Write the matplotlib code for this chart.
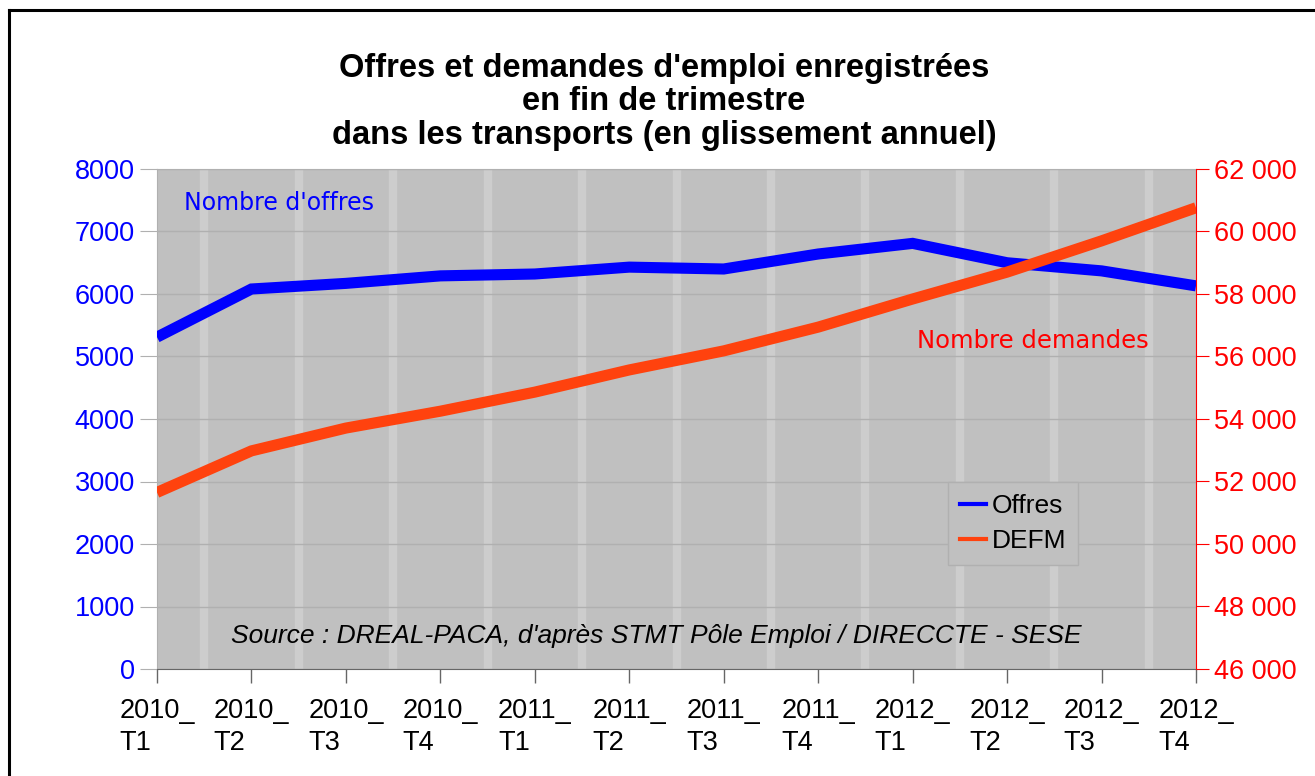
"""Offres et demandes d'emploi dans les transports (PACA)."""

import matplotlib
matplotlib.use("Agg")
import matplotlib.pyplot as plt
from matplotlib.lines import Line2D
from matplotlib.ticker import FuncFormatter, MultipleLocator

plt.rcParams['font.family'] = ['Liberation Sans', 'DejaVu Sans']

# data
quarters = ["2010_\nT1", "2010_\nT2", "2010_\nT3", "2010_\nT4",
            "2011_\nT1", "2011_\nT2", "2011_\nT3", "2011_\nT4",
            "2012_\nT1", "2012_\nT2", "2012_\nT3", "2012_\nT4"]
offres = [5310, 6080, 6170, 6290, 6320, 6430, 6400, 6640,
          6810, 6500, 6370, 6130]
defm = [51650, 52980, 53710, 54250, 54860, 55570, 56180, 56940,
        57840, 58700, 59700, 60760]

BLUE = "#0000ff"
ORANGE = "#ff420e"
RED = "#ff0000"
BG = "#c0c0c0"


def space_thousands(v, _pos):
    return f"{int(v):,}".replace(",", " ")


fig = plt.figure(figsize=(13.15, 7.76), dpi=100)
ax = fig.add_axes([157 / 1315, 107 / 776, 1039 / 1315, 500 / 776])
ax2 = ax.twinx()

x = range(len(quarters))
ax.set_facecolor(BG)
ax.set_xlim(0, len(quarters) - 1)
ax.set_ylim(0, 8000)
ax2.set_ylim(46000, 62000)

# light vertical stripes between categories, gray horizontal grid
for i in range(len(quarters) - 1):
    ax.axvline(i + 0.5, color="#cdcdcd", lw=6, zorder=0.5)
ax.yaxis.set_major_locator(MultipleLocator(1000))
ax.grid(axis="y", color="#b0b0b0", lw=1, zorder=0.6)
ax.set_axisbelow(True)

line1, = ax.plot(x, offres, color=BLUE, lw=8, solid_capstyle="butt",
                 solid_joinstyle="miter", zorder=3)
line2, = ax2.plot(x, defm, color=ORANGE, lw=8, solid_capstyle="butt",
                  solid_joinstyle="miter", zorder=3)

ax.set_xticks(list(x))
ax.set_xticklabels(quarters, fontsize=19.5, multialignment="left",
                   linespacing=1.3)
ax.tick_params(axis="x", length=10, width=1, color="#666666", pad=11)
ax.tick_params(axis="y", colors=BLUE, labelsize=19.5, length=12,
               color="#b0b0b0", pad=4)
ax2.yaxis.set_major_locator(MultipleLocator(2000))
ax2.yaxis.set_major_formatter(FuncFormatter(space_thousands))
ax2.tick_params(axis="y", colors=RED, labelsize=19.5, length=9,
                color=RED, pad=4)

for a in (ax, ax2):
    a.spines["top"].set_visible(False)
    a.spines["left"].set_color("#b0b0b0")
    a.spines["bottom"].set_color("#666666")
    a.spines["right"].set_color(RED)
ax2.spines["left"].set_visible(False)
ax2.spines["bottom"].set_visible(False)
ax.spines["right"].set_visible(False)
ax.spines["top"].set_visible(True)
ax.spines["top"].set_color("#b0b0b0")

ax.text(0.29, 7460, "Nombre d'offres", color=BLUE, fontsize=17,
        family="DejaVu Sans", va="center")
ax2.text(8.05, 56500, "Nombre demandes", color=RED, fontsize=17.5,
         family="DejaVu Sans", va="center")
ax.text(5.29, 530, "Source : DREAL-PACA, d'après STMT Pôle Emploi / "
        "DIRECCTE - SESE", fontsize=19, style="italic", ha="center",
        va="center", zorder=4)

handles = [Line2D([], [], color=BLUE, lw=3), Line2D([], [], color=ORANGE, lw=3)]
leg = ax2.legend(handles, ["Offres", "DEFM"], loc="upper left",
                 bbox_to_anchor=(791 / 1039, 187 / 500), fontsize=19,
                 frameon=True, fancybox=False, framealpha=1,
                 facecolor=BG, edgecolor="#b0b0b0", handlelength=1.0,
                 handletextpad=0.2, borderpad=0.45, labelspacing=0.42,
                 borderaxespad=0)
leg.get_frame().set_linewidth(1)

fig.text(664 / 1315, 1 - 102 / 776,
         "Offres et demandes d'emploi enregistrées\nen fin de trimestre\n"
         "dans les transports (en glissement annuel)",
         ha="center", va="center", fontsize=23.5, fontweight="bold",
         linespacing=1.1)

# outer chart frame (top and left edges visible)
fig.add_artist(Line2D([9 / 1315, 9 / 1315], [0, 1 - 10 / 776],
                      color="black", lw=2.2))
fig.add_artist(Line2D([9 / 1315, 1], [1 - 10 / 776, 1 - 10 / 776],
                      color="black", lw=2.2))

fig.savefig("out.png", dpi=100)
